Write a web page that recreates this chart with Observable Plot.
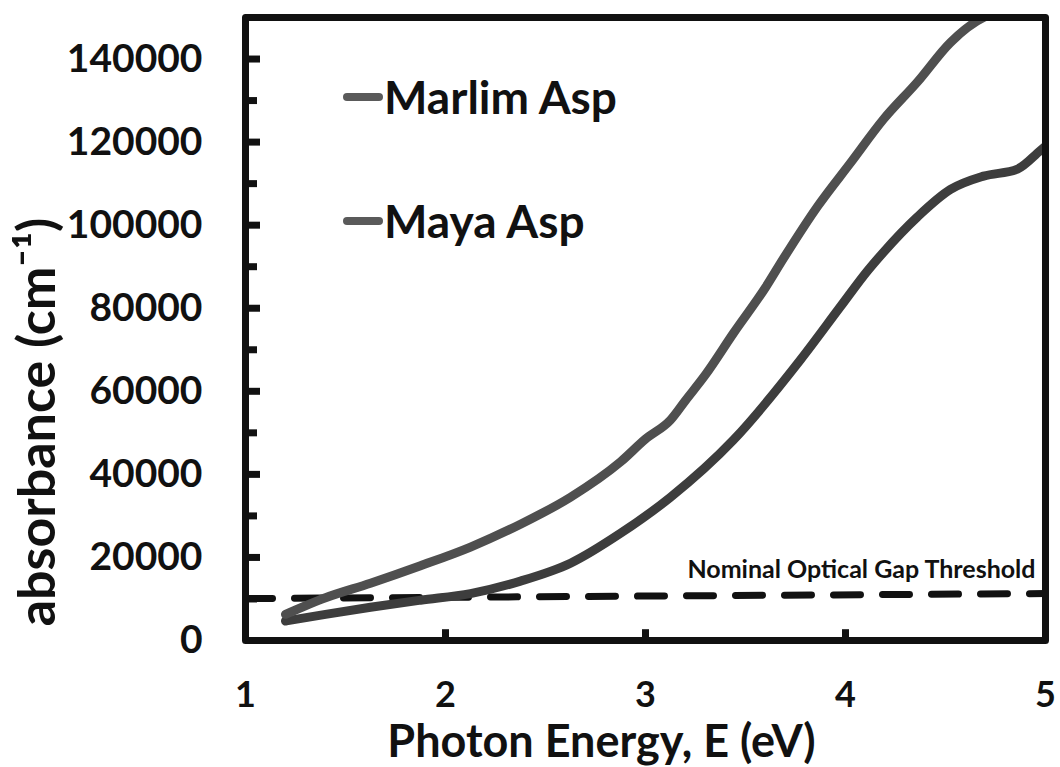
<!DOCTYPE html>
<html>
<head>
<meta charset="utf-8">
<script src="https://cdn.jsdelivr.net/npm/d3@7"></script>
<script src="https://cdn.jsdelivr.net/npm/@observablehq/plot@0.6"></script>
<style>
  html, body { margin: 0; padding: 0; background: #fff; }
  #wrap { position: relative; width: 1060px; height: 767px; font-family: Lato, "Open Sans", sans-serif; font-weight: bold; }
  .legend { position: absolute; left: 343px; display: flex; align-items: center; font-size: 46px; color: #111; line-height: 1; }
  .sw { display: inline-block; width: 40px; height: 8px; border-radius: 4px; background: #5a5a5a; margin-right: 1px; }
</style>
</head>
<body>
<div id="wrap"></div>
<script>
// Photon energy (eV) and absorbance (cm^-1)
const marlimE = [1.2, 1.4, 1.625, 1.875, 2.125, 2.375, 2.625, 2.875, 3.0, 3.125, 3.2, 3.3, 3.44, 3.6, 3.69, 3.86, 4.025, 4.19, 4.36, 4.525, 4.69, 4.8];
const marlimA = [6300, 10300, 13800, 18000, 22500, 28000, 34500, 43000, 48500, 53100, 57800, 64000, 74000, 85000, 92000, 104500, 115000, 125500, 134500, 144000, 150000, 151500];
const mayaE = [1.2, 1.4, 1.625, 1.875, 2.125, 2.375, 2.625, 2.875, 3.125, 3.44, 3.775, 3.975, 4.11, 4.19, 4.36, 4.525, 4.69, 4.86, 4.975, 5.0];
const mayaA = [4700, 6300, 8000, 9700, 11300, 14300, 18600, 25800, 34500, 48300, 67600, 80400, 89000, 93500, 102000, 108600, 111800, 113500, 118000, 119000];
const thresholdE = [1, 5];
const thresholdA = [10100, 11300];
const seriesNames = ["Marlim Asp", "Maya Asp"];
const xTickValues = [1, 2, 3, 4, 5];
const yTickValues = [0, 20000, 40000, 60000, 80000, 100000, 120000, 140000];
const yMinorTicks = [10000, 30000, 50000, 70000, 90000, 110000, 130000];
const thresholdLabel = "Nominal Optical Gap Threshold";

const marlim = marlimE.map((e, i) => ({E: e, A: marlimA[i]}));
const maya = mayaE.map((e, i) => ({E: e, A: mayaA[i]}));
const threshold = thresholdE.map((e, i) => ({E: e, A: thresholdA[i]}));

const chart = Plot.plot({
  width: 1060,
  height: 767,
  marginLeft: 245,
  marginRight: 15,
  marginTop: 17,
  marginBottom: 127,
  style: {fontFamily: "Lato, 'Open Sans', sans-serif", fontWeight: "bold", color: "#111", background: "#fff"},
  x: {domain: [1, 5]},
  y: {domain: [0, 150000]},
  marks: [
    Plot.ruleY(yTickValues.filter(d => d > 0), {y: d => d, x1: 1, x2: 1.075, stroke: "#111", strokeWidth: 7}),
    Plot.ruleY(yMinorTicks, {y: d => d, x1: 1, x2: 1.06, stroke: "#111", strokeWidth: 7}),
    Plot.ruleX(xTickValues.filter(d => d > 1 && d < 5), {x: d => d, y1: 0, y2: 2600, stroke: "#111", strokeWidth: 7}),
    Plot.line(threshold, {x: "E", y: "A", stroke: "#111", strokeWidth: 7, strokeDasharray: "27,22"}),
    Plot.text([thresholdLabel], {x: 5, y: thresholdA[1], text: d => d, textAnchor: "end", dx: -10, dy: -24, fontSize: 25, fill: "#111"}),
    Plot.line(maya, {x: "E", y: "A", stroke: "#3d3d3d", strokeWidth: 9, curve: "monotone-x", clip: true}),
    Plot.line(marlim, {x: "E", y: "A", stroke: "#4f4f4f", strokeWidth: 9, curve: "monotone-x", clip: true}),
    Plot.frame({stroke: "#111", strokeWidth: 7, strokeLinejoin: "round"}),
    Plot.axisY({ticks: yTickValues, tickSize: 0, tickPadding: 43, fontSize: 39, tickFormat: d3.format("d"), label: null}),
    Plot.axisX({ticks: xTickValues, tickSize: 0, tickPadding: 41, fontSize: 36, tickFormat: d3.format("d"), label: null}),
    Plot.text(["Photon Energy, E (eV)"], {frameAnchor: "bottom", text: d => d, textAnchor: "middle", dx: -44, dy: 102, lineAnchor: "middle", fontSize: 45, fill: "#111"}),
    Plot.text(["absorbance (cm⁻¹)"], {frameAnchor: "left", text: d => d, textAnchor: "middle", rotate: -90, dx: -207, dy: 93, lineAnchor: "middle", fontSize: 52, fill: "#111"})
  ]
});

const wrap = document.getElementById("wrap");
wrap.appendChild(chart);
const legendTops = [74, 198];
seriesNames.forEach((name, i) => {
  const div = document.createElement("div");
  div.className = "legend";
  div.style.top = legendTops[i] + "px";
  const sw = document.createElement("span");
  sw.className = "sw";
  div.appendChild(sw);
  div.appendChild(document.createTextNode(name));
  wrap.appendChild(div);
});
</script>
</body>
</html>
